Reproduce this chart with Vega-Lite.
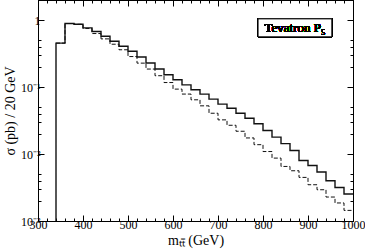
{
  "$schema": "https://vega.github.io/schema/vega-lite/v6.json",
  "width": 315,
  "height": 221,
  "autosize": {"type": "none"},
  "padding": {"left": 38, "top": 0, "right": 12, "bottom": 31},
  "background": "white",
  "config": {
    "font": "Liberation Serif",
    "view": {"stroke": "black", "strokeWidth": 1},
    "axis": {"grid": false, "domainColor": "black", "tickColor": "black", "labelColor": "black", "titleColor": "black", "labelFont": "Liberation Serif", "titleFont": "Liberation Serif", "titleFontWeight": "normal"}
  },
  "data": {
    "values": [
      {"m": 340, "sigma": 0.001, "series": "A"},
      {"m": 340, "sigma": 0.454, "series": "A"},
      {"m": 360, "sigma": 0.891, "series": "A"},
      {"m": 380, "sigma": 0.867, "series": "A"},
      {"m": 400, "sigma": 0.767, "series": "A"},
      {"m": 420, "sigma": 0.676, "series": "A"},
      {"m": 440, "sigma": 0.575, "series": "A"},
      {"m": 460, "sigma": 0.484, "series": "A"},
      {"m": 480, "sigma": 0.407, "series": "A"},
      {"m": 500, "sigma": 0.343, "series": "A"},
      {"m": 520, "sigma": 0.282, "series": "A"},
      {"m": 540, "sigma": 0.229, "series": "A"},
      {"m": 560, "sigma": 0.186, "series": "A"},
      {"m": 580, "sigma": 0.153, "series": "A"},
      {"m": 600, "sigma": 0.129, "series": "A"},
      {"m": 620, "sigma": 0.108, "series": "A"},
      {"m": 640, "sigma": 0.0912, "series": "A"},
      {"m": 660, "sigma": 0.0785, "series": "A"},
      {"m": 680, "sigma": 0.0661, "series": "A"},
      {"m": 700, "sigma": 0.0556, "series": "A"},
      {"m": 720, "sigma": 0.0484, "series": "A"},
      {"m": 740, "sigma": 0.0407, "series": "A"},
      {"m": 760, "sigma": 0.0343, "series": "A"},
      {"m": 780, "sigma": 0.0283, "series": "A"},
      {"m": 800, "sigma": 0.0225, "series": "A"},
      {"m": 820, "sigma": 0.0179, "series": "A"},
      {"m": 840, "sigma": 0.0143, "series": "A"},
      {"m": 860, "sigma": 0.0113, "series": "A"},
      {"m": 880, "sigma": 0.0080, "series": "A"},
      {"m": 900, "sigma": 0.00676, "series": "A"},
      {"m": 920, "sigma": 0.00539, "series": "A"},
      {"m": 940, "sigma": 0.00399, "series": "A"},
      {"m": 960, "sigma": 0.00317, "series": "A"},
      {"m": 980, "sigma": 0.00253, "series": "A"},
      {"m": 1000, "sigma": 0.00253, "series": "A"},
      {"m": 340, "sigma": 0.454, "series": "B"},
      {"m": 360, "sigma": 0.891, "series": "B"},
      {"m": 380, "sigma": 0.867, "series": "B"},
      {"m": 400, "sigma": 0.750, "series": "B"},
      {"m": 420, "sigma": 0.631, "series": "B"},
      {"m": 440, "sigma": 0.525, "series": "B"},
      {"m": 460, "sigma": 0.437, "series": "B"},
      {"m": 480, "sigma": 0.361, "series": "B"},
      {"m": 500, "sigma": 0.286, "series": "B"},
      {"m": 520, "sigma": 0.228, "series": "B"},
      {"m": 540, "sigma": 0.186, "series": "B"},
      {"m": 560, "sigma": 0.148, "series": "B"},
      {"m": 580, "sigma": 0.117, "series": "B"},
      {"m": 600, "sigma": 0.0933, "series": "B"},
      {"m": 620, "sigma": 0.0787, "series": "B"},
      {"m": 640, "sigma": 0.0646, "series": "B"},
      {"m": 660, "sigma": 0.0525, "series": "B"},
      {"m": 680, "sigma": 0.0407, "series": "B"},
      {"m": 700, "sigma": 0.0324, "series": "B"},
      {"m": 720, "sigma": 0.0269, "series": "B"},
      {"m": 740, "sigma": 0.0219, "series": "B"},
      {"m": 760, "sigma": 0.0174, "series": "B"},
      {"m": 780, "sigma": 0.0138, "series": "B"},
      {"m": 800, "sigma": 0.0109, "series": "B"},
      {"m": 820, "sigma": 0.0087, "series": "B"},
      {"m": 840, "sigma": 0.00653, "series": "B"},
      {"m": 860, "sigma": 0.00563, "series": "B"},
      {"m": 880, "sigma": 0.00448, "series": "B"},
      {"m": 900, "sigma": 0.00348, "series": "B"},
      {"m": 920, "sigma": 0.00293, "series": "B"},
      {"m": 940, "sigma": 0.00228, "series": "B"},
      {"m": 960, "sigma": 0.00186, "series": "B"},
      {"m": 980, "sigma": 0.00144, "series": "B"},
      {"m": 1000, "sigma": 0.00144, "series": "B"}
    ]
  },
  "resolve": {"axis": {"x": "independent", "y": "independent"}},
  "layer": [
    {
      "transform": [{"filter": "datum.series == 'A'"}],
      "mark": {"type": "line", "interpolate": "step-after", "color": "#111", "strokeWidth": 1.4, "clip": true},
      "encoding": {
        "x": {
          "field": "m", "type": "quantitative",
          "scale": {"domain": [300, 1000], "nice": false, "zero": false},
          "axis": {
            "orient": "bottom",
            "values": [300,320,340,360,380,400,420,440,460,480,500,520,540,560,580,600,620,640,660,680,700,720,740,760,780,800,820,840,860,880,900,920,940,960,980,1000],
            "format": "d",
            "labelExpr": "datum.value % 100 == 0 ? datum.label : ''",
            "tickSize": {"condition": {"test": "datum.value % 100 == 0", "value": -6}, "value": -3},
            "labelPadding": 4,
            "labelFontSize": 12,
            "labelFlush": false,
            "labelOverlap": false,
            "title": "mₜₜ̄  (GeV)",
            "titleFontSize": 14,
            "titlePadding": 0
          }
        },
        "y": {
          "field": "sigma", "type": "quantitative",
          "scale": {"type": "log", "domain": [0.001, 2], "nice": false},
          "axis": {
            "orient": "left",
            "values": [0.001,0.002,0.003,0.004,0.005,0.01,0.02,0.03,0.04,0.05,0.1,0.2,0.3,0.4,0.5,1,2],
            "labelExpr": "datum.value == 1 ? '1' : datum.value == 0.1 ? '10⁻¹' : datum.value == 0.01 ? '10⁻²' : datum.value == 0.001 ? '10⁻³' : ''",
            "tickSize": {"condition": {"test": "datum.value == 1 || datum.value == 0.1 || datum.value == 0.01 || datum.value == 0.001", "value": -6}, "value": -3},
            "labelPadding": 4,
            "labelFontSize": 12,
            "labelOverlap": false,
            "labelFlush": false,
            "title": "σ (pb) / 20 GeV",
            "titleFontSize": 14,
            "titlePadding": 3
          }
        }
      }
    },
    {
      "transform": [{"filter": "datum.series == 'B'"}],
      "mark": {"type": "line", "interpolate": "step-after", "color": "#111", "strokeWidth": 1, "strokeDash": [4, 2], "clip": true},
      "encoding": {
        "x": {
          "field": "m", "type": "quantitative",
          "axis": {
            "orient": "top",
            "values": [300,320,340,360,380,400,420,440,460,480,500,520,540,560,580,600,620,640,660,680,700,720,740,760,780,800,820,840,860,880,900,920,940,960,980,1000],
            "labels": false,
            "tickSize": {"condition": {"test": "datum.value % 100 == 0", "value": -6}, "value": -3},
            "title": null
          }
        },
        "y": {
          "field": "sigma", "type": "quantitative",
          "axis": {
            "orient": "right",
            "values": [0.001,0.002,0.003,0.004,0.005,0.01,0.02,0.03,0.04,0.05,0.1,0.2,0.3,0.4,0.5,1,2],
            "labels": false,
            "tickSize": {"condition": {"test": "datum.value == 1 || datum.value == 0.1 || datum.value == 0.01 || datum.value == 0.001", "value": -6}, "value": -3},
            "title": null
          }
        }
      }
    },
    {
      "mark": {"type": "rect", "fill": "white", "stroke": "black", "strokeWidth": 1},
      "encoding": {
        "x": {"datum": 789, "type": "quantitative", "axis": null},
        "x2": {"datum": 953},
        "y": {"datum": 1.045, "type": "quantitative", "axis": null},
        "y2": {"datum": 0.563}
      }
    },
    {
      "mark": {"type": "text", "text": "Tevatron P₅", "font": "Liberation Serif", "fontWeight": "normal", "fontSize": 13, "color": "black", "align": "center", "baseline": "middle"},
      "encoding": {
        "x": {"datum": 871, "type": "quantitative", "axis": null},
        "y": {"datum": 0.767, "type": "quantitative", "axis": null}
      }
    }
  ]
}
